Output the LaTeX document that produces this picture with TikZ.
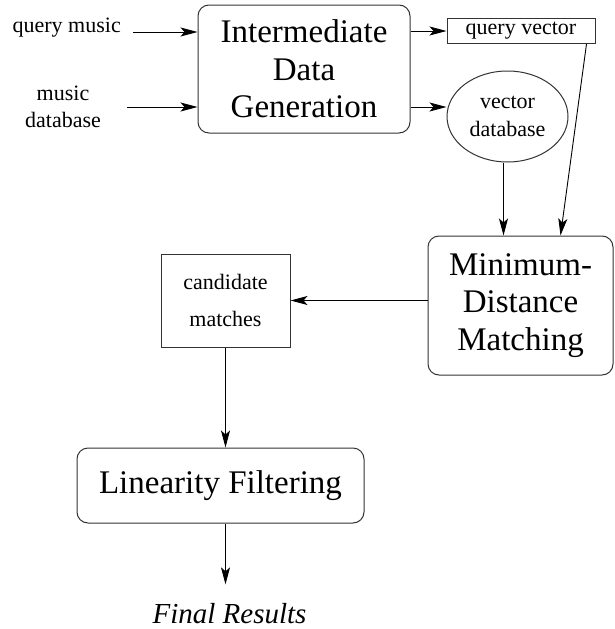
\documentclass[tikz,border=0pt]{standalone}
\usepackage{fontspec}
\setmainfont{Liberation Serif}
\usetikzlibrary{arrows.meta,positioning,shapes.geometric}

\begin{document}
\begin{tikzpicture}[
    x=1pt,
    y=-1pt,
    >={Stealth[length=17pt,width=9pt,inset=4pt]},
    flow/.style={
        ->,
        line width=0.9pt
    },
    stagebox/.style={
        draw=black!80,
        line width=1pt,
        rectangle,
        rounded corners=11pt,
        align=center,
        inner sep=0pt,
        font=\fontsize{33}{37.5}\selectfont
    },
    databox/.style={
        draw=black!80,
        line width=1pt,
        rectangle,
        align=center,
        inner sep=0pt,
        font=\fontsize{22}{26}\selectfont
    },
    dataoval/.style={
        draw=black!80,
        line width=1pt,
        ellipse,
        align=center,
        inner sep=0pt,
        font=\fontsize{22}{28}\selectfont
    },
    inputlabel/.style={
        align=center,
        font=\fontsize{22}{27}\selectfont
    }
]
\useasboundingbox (0,0) rectangle (614,629);

% ------------------------------------------------------------
% Inputs and data generation
% ------------------------------------------------------------
\node[inputlabel, anchor=base] (qmusic) at (66.7,32) {query music};
\node[inputlabel] (mdb) at (63,107) {music\\database};

\node[stagebox, minimum width=212, minimum height=128] (idg)
    at (304,69) {Intermediate\\Data\\Generation};

\node[databox, minimum width=148, minimum height=25] (qv)
    at (521,31) {query vector};
\node[dataoval, minimum width=121, minimum height=91] (vdb)
    at (507.5,116.5) {vector\\database};

\draw[flow] ([xshift=9pt]qmusic.base east) -- (qmusic.base east -| idg.west);
\draw[flow] ([xshift=23pt]mdb.east) -- (mdb.east -| idg.west);

\draw[flow] (idg.east |- qv.west) -- (qv.west);
\draw[flow] (idg.east |- mdb.east) -- (vdb.west |- mdb.east);

% ------------------------------------------------------------
% Matching
% ------------------------------------------------------------
\node[stagebox, minimum width=185, minimum height=139] (mdm)
    at (520.5,305.5) {Minimum-\\Distance\\Matching};

\node[databox, minimum width=129, minimum height=93,
      font=\fontsize{22}{37}\selectfont] (cand)
    at (225.5,300.5) {candidate\\matches};

\draw[flow] ([xshift=-4pt]vdb.south) -- ([xshift=-4pt]vdb.south |- mdm.north);
\draw[flow] ([xshift=-9pt]qv.south east) -- ([xshift=40pt]mdm.north);
\draw[flow] (mdm.west |- cand.east) -- (cand.east);

% ------------------------------------------------------------
% Filtering and result
% ------------------------------------------------------------
\node[stagebox, minimum width=287, minimum height=75] (lf)
    at (220.5,485.5) {Linearity Filtering};

\node[font=\fontsize{29}{33}\selectfont\itshape, anchor=base] (final)
    at (229.5,623) {Final Results};

\draw[flow] (cand.south) -- (cand.south |- lf.north);
\draw[flow] (lf.south -| cand.south) -- ([yshift=15pt]final.north -| cand.south);

\end{tikzpicture}
\end{document}
